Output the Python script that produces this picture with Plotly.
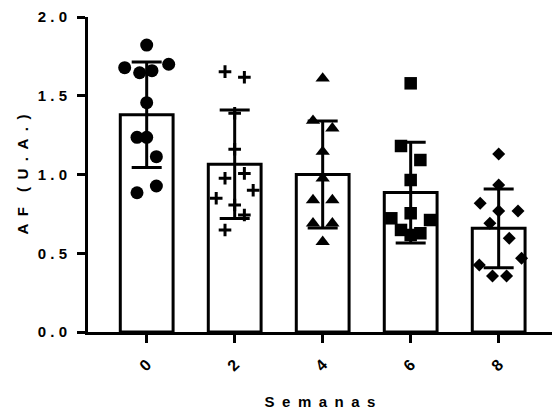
import plotly.graph_objects as go

# --- data ---
categories = ["0", "2", "4", "6", "8"]
means = [1.38, 1.065, 1.0, 0.885, 0.658]
sds = [0.335, 0.345, 0.34, 0.32, 0.25]

pts_w0 = [1.822, 1.678, 1.646, 1.659, 1.70, 1.456, 1.236, 1.236, 1.113, 0.884, 0.927]
jit_w0 = [0.0, -0.25, -0.08, 0.06, 0.25, 0.0, -0.11, 0.0, 0.11, -0.11, 0.11]

pts_w2 = [1.653, 1.617, 1.389, 1.16, 0.976, 1.007, 0.90, 0.849, 0.806, 0.743, 0.648]
jit_w2 = [-0.11, 0.11, 0.0, 0.0, -0.11, 0.11, 0.21, -0.21, 0.0, 0.11, -0.11]

pts_w4 = [1.61, 1.342, 1.293, 1.145, 0.976, 0.838, 0.838, 0.69, 0.69, 0.573]
jit_w4 = [0.0, -0.11, 0.11, 0.0, 0.0, -0.11, 0.11, -0.11, 0.11, 0.0]

pts_w6 = [1.579, 1.181, 1.092, 0.965, 0.754, 0.722, 0.711, 0.648, 0.627, 0.616]
jit_w6 = [0.0, -0.11, 0.11, 0.0, 0.0, -0.22, 0.22, -0.11, 0.11, 0.0]

pts_w8 = [1.13, 0.933, 0.817, 0.768, 0.768, 0.69, 0.595, 0.468, 0.425, 0.356, 0.356]
jit_w8 = [0.0, 0.0, -0.21, 0.0, 0.22, -0.1, 0.12, 0.26, -0.22, -0.07, 0.09]

y_ticks = [0.0, 0.5, 1.0, 1.5, 2.0]

points = [pts_w0, pts_w2, pts_w4, pts_w6, pts_w8]
jitters = [jit_w0, jit_w2, jit_w4, jit_w6, jit_w8]
symbols = ["circle", "cross-thin", "triangle-up", "square", "diamond"]
sizes = [13, 9, 12.5, 12.5, 10]

FONT = "Arial"


def spaced(s, sep=" "):
    return sep.join(list(s))


def bold(s):
    return "<b>" + s + "</b>"


fig = go.Figure()
xpos = list(range(len(categories)))

fig.add_trace(go.Bar(
    x=xpos, y=means, width=0.6,
    marker=dict(color="white", line=dict(color="black", width=3)),
    error_y=dict(type="data", array=sds, visible=True, color="black",
                 thickness=3, width=15),
    showlegend=False,
))

for i, (pts, jit) in enumerate(zip(points, jitters)):
    line = dict(color="black", width=3) if symbols[i] == "cross-thin" else dict(width=0)
    fig.add_trace(go.Scatter(
        x=[i + j for j in jit], y=pts, mode="markers",
        marker=dict(symbol=symbols[i], size=sizes[i], color="black", line=line),
        showlegend=False, cliponaxis=False,
    ))

fig.update_layout(
    width=553, height=412,
    margin=dict(l=88, r=1, t=17, b=80, autoexpand=False),
    plot_bgcolor="white", paper_bgcolor="white",
    font=dict(family=FONT, color="black", size=14, weight=700),
)

fig.update_xaxes(
    range=[-0.667, 4.606], automargin=False,
    tickvals=xpos, ticktext=[bold(c) for c in categories], tickangle=-45,
    ticks="outside", ticklen=8, tickwidth=3, tickcolor="black",
    showline=True, linecolor="black", linewidth=3,
    showgrid=False, zeroline=False,
    tickfont=dict(family=FONT, size=16, weight=700),
    ticklabelstandoff=6,
    title=dict(text=bold(spaced("Semanas", "\u2002")),
               font=dict(family=FONT, size=15, weight=700), standoff=24),
)

fig.update_yaxes(
    range=[0, 2], automargin=False,
    tickvals=y_ticks, ticktext=[bold(spaced(f"{v:.1f}")) for v in y_ticks],
    ticks="outside", ticklen=8, tickwidth=3, tickcolor="black",
    showline=True, linecolor="black", linewidth=3,
    showgrid=False, zeroline=False,
    tickfont=dict(family=FONT, size=15, weight=700),
    ticklabelstandoff=7,
    title=dict(text=bold("A\u2002F\u2002\u2002(\u2002U\u2002.\u2002A\u2002.\u2002)"),
               font=dict(family=FONT, size=15, weight=700), standoff=6),
)

fig.write_html("out.html", config={"displayModeBar": False},
               post_script="document.body.style.margin='0';")
